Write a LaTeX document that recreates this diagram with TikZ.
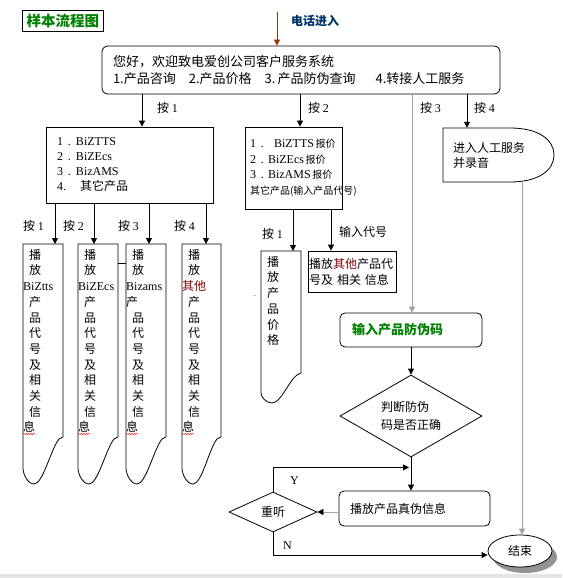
\documentclass[tikz,border=0pt]{standalone}
\usepackage{fontspec}
\setmainfont{Noto Sans CJK SC}
\newfontfamily\lat{Liberation Serif}
\usetikzlibrary{arrows.meta,shapes.geometric,shadows,decorations.pathmorphing}

\definecolor{titlegreen}{RGB}{0,128,0}
\definecolor{callblue}{RGB}{0,51,102}
\definecolor{callbrown}{RGB}{153,51,0}
\definecolor{otherred}{RGB}{128,0,0}
\definecolor{lanegray}{RGB}{160,160,160}

\newcommand{\ind}{\hspace*{6pt}}
\newcommand{\latb}{\lat\fontsize{12}{15}\selectfont}
% torn page outline: left, right, top, right bottom, tip depth
\newcommand{\tornpage}[5]{%
  \draw[line width=0.8pt] (#1,#3) -- (#2,#3) -- (#2,#4) -- (#2-4,#4+2)
    .. controls (#2-12,#4+0.25*#5) and (#1+20,#4+#5) .. (#1+11,#4+#5)
    .. controls (#1+5,#4+#5) and (#1,#4+0.8*#5) .. (#1,#4+0.66*#5) -- cycle;}

\begin{document}
\begin{tikzpicture}[
    x=1pt, y=-1pt,
    font=\fontsize{12}{15}\selectfont,
    box/.style={draw, line width=0.8pt, inner ysep=0pt},
    doctext/.style={anchor=north west, minimum width=40pt, text width=40pt, inner xsep=0pt, inner ysep=5pt, align=left, font=\fontsize{12}{15.7}\selectfont},
    lbl/.style={anchor=west, inner sep=0pt},
    arrow/.style={line width=0.8pt, -{Triangle[length=6pt, width=6pt]}},
    grayarrow/.style={line width=0.8pt, lanegray, -{Triangle[length=6pt, width=6pt]}},
    squiggle/.style={red, line width=0.4pt, decorate, decoration={snake, amplitude=0.7pt, segment length=2.5pt}}
]
\useasboundingbox (0,0) rectangle (562,578);

% title and call in
\node[draw, line width=0.8pt, minimum width=81, minimum height=21, inner sep=0pt, text=titlegreen, font=\fontsize{14.5}{15}\selectfont\bfseries] (title) at (63,20.5) {样本流程图};
\coordinate (callin) at (277,12);
\node[lbl, text=callblue, font=\fontsize{12}{15}\selectfont\bfseries] (calltxt) at (291,21) {电话进入};

% main menu
\node[box, rounded corners=6pt, minimum width=398, minimum height=48, text width=376, inner xsep=11pt, align=left, font=\fontsize{13}{17}\selectfont] (welcome) at (301,70) {您好，欢迎致电爱创公司客户服务系统\\1.产品咨询\hspace{13pt}2.产品价格\hspace{13pt}3.\,产品防伪查询\hspace{20pt}4.转接人工服务};
\draw[line width=0.8pt, callbrown, -{Triangle[length=6pt, width=6pt]}] (callin) -- (callin |- welcome.north);

\coordinate (k1) at (142,0);
\coordinate (k2) at (300,0);
\coordinate (k3) at (412,0);
\coordinate (k4) at (467,0);
\node[lbl] (kl1) at (157,108) {按 {\latb 1}};
\node[lbl] (kl2) at (308,108) {按 {\latb 2}};
\node[lbl] (kl3) at (420,108) {按 {\latb 3}};
\node[lbl] (kl4) at (474,108) {按 {\latb 4}};

% product list
\node[box, minimum width=167, minimum height=76, text width=145, inner xsep=11pt, align=left] (prodlist) at (129.5,165) {{\latb 1\hspace{5pt}.\hspace{5pt}BiZTTS}\\{\latb 2\hspace{5pt}.\hspace{5pt}BiZEcs}\\{\latb 3\hspace{5pt}.\hspace{5pt}BizAMS}\\{\latb 4.}\hspace{14pt}其它产品};
\draw[arrow] (welcome.south -| k1) -- (k1 |- prodlist.north);

% price list
\node[box, minimum width=97, minimum height=82, text width=87, inner xsep=5pt, align=left, font=\fontsize{10}{15.5}\selectfont] (pricelist) at (293.5,168) {{\latb 1\hspace{5pt}.\hspace{10pt}BiZTTS}\,报价\\{\latb 2\hspace{5pt}.\hspace{4pt}BiZEcs}\,报价\\{\latb 3\hspace{5pt}.\hspace{4pt}BizAMS}\,报价\\其它产品(输入产品代号)};
\draw[arrow] (welcome.south -| k2) -- (k2 |- pricelist.north);

% manual service
\node[text width=91, inner xsep=10pt, minimum width=111, minimum height=54, align=left, font=\fontsize{12}{15}\selectfont] (manual) at (498.5,155) {进入人工服务\\并录音};
\draw[line width=0.8pt] (443,128) -- (510,128) .. controls (539,128) and (554,140) .. (554,155)
  .. controls (554,170) and (539,182) .. (510,182) -- (443,182) -- cycle;
\draw[arrow] (welcome.south -| k4) -- (k4 |- manual.north);

% product info pages
\coordinate (j1) at (55,0);
\coordinate (j2) at (94,0);
\coordinate (j3) at (149,0);
\coordinate (j4) at (206,0);
\node[lbl] (jl1) at (23,226) {按 {\latb 1}};
\node[lbl] (jl2) at (63,226) {按 {\latb 2}};
\node[lbl] (jl3) at (118,226) {按 {\latb 3}};
\node[lbl] (jl4) at (174,226) {按 {\latb 4}};

\tornpage{23}{63}{244}{437}{47}
\tornpage{78}{118}{244}{437}{47}
\tornpage{126}{166}{244}{437}{47}
\tornpage{182}{221}{244}{437}{47}
\node[doctext] (d1) at (23,244) {\ind 播\\\ind 放\\{\latb BiZtts}\\\ind 产\\\ind 品\\\ind 代\\\ind 号\\\ind 及\\\ind 相\\\ind 关\\\ind 信\\息};
\node[doctext] (d2) at (78,244) {\ind 播\\\ind 放\\{\latb BiZEcs}\\\ind 产\\\ind 品\\\ind 代\\\ind 号\\\ind 及\\\ind 相\\\ind 关\\\ind 信\\息};
\node[doctext] (d3) at (126,244) {\ind 播\\\ind 放\\{\latb Bizams}\\产\\\ind 品\\\ind 代\\\ind 号\\\ind 及\\\ind 相\\\ind 关\\\ind 信\\息};
\node[doctext] (d4) at (182,244) {\ind 播\\\ind 放\\{\color{otherred}其他}\\\ind 产\\\ind 品\\\ind 代\\\ind 号\\\ind 及\\\ind 相\\\ind 关\\\ind 信\\息};
\draw[arrow] (prodlist.south -| j1) -- (j1 |- d1.north);
\draw[arrow] (prodlist.south -| j2) -- (j2 |- d2.north);
\draw[arrow] (prodlist.south -| j3) -- (j3 |- d3.north);
\draw[arrow] (prodlist.south -| j4) -- (j4 |- d4.north);
\draw[line width=0.8pt] ([yshift=-19pt]d2.north east) -- ([yshift=-19pt]d3.north west);
\draw[squiggle] (23,434) -- (35,434);
\draw[squiggle] (78,434) -- (90,434);
\draw[squiggle] (126,434) -- (138,434);
\draw[squiggle] (182,434) -- (194,434);

% price page and other code
\coordinate (p1) at (293,0);
\coordinate (p2) at (331,0);
\node[lbl] (pl1) at (262,234) {按 {\latb 1}};
\node[lbl] (pl2) at (339,232) {输入代号};
\tornpage{261}{301}{251}{373}{30}
\node[doctext] (d5) at (261,251) {\ind 播\\\ind 放\\\ind 产\\\ind 品\\\ind 价\\\ind 格};
\node[font=\fontsize{6}{6}\selectfont, inner sep=0pt] (dots) at (255,296) {..};
\node[box, minimum width=88, minimum height=41, text width=86, inner xsep=1pt, align=left, font=\fontsize{12}{16}\selectfont] (othercode) at (352,271.5) {播放{\color{otherred}其他}产品代\\号及 相关 信息};
\draw[arrow] (pricelist.south -| p1) -- (p1 |- d5.north);
\draw[arrow] (pricelist.south -| p2) -- (p2 |- othercode.north);

% anti-fake check
\node[box, rounded corners=5pt, minimum width=142, minimum height=34, text width=118, inner xsep=12pt, align=left, text=titlegreen, font=\fontsize{13}{15}\selectfont\bfseries] (verify) at (411,330) {输入产品防伪码};
\draw[grayarrow] (welcome.south -| k3) -- (k3 |- verify.north);
\node[draw, line width=0.8pt, diamond, aspect=1.73, minimum width=142, minimum height=82, inner sep=0pt, align=left, font=\fontsize{12}{18}\selectfont] (check) at (411,416) {判断防伪\\码是否正确};
\draw[arrow] (verify.south -| check.north) -- (check.north);
\node[box, rounded corners=5pt, minimum width=151, minimum height=35, text width=129, inner xsep=11pt, align=left] (truth) at (414.5,508.5) {播放产品真伪信息};
\draw[arrow] (check.south) -- (check.south |- truth.north);

% replay and end
\node[draw, line width=0.8pt, diamond, aspect=2.2, minimum width=88, minimum height=40, inner sep=0pt] (replay) at (273,512) {重听};
\node[draw, line width=0.8pt, ellipse, fill=white, minimum width=64, minimum height=32, inner sep=0pt, drop shadow={fill=gray!85, opacity=1, shadow xshift=5pt, shadow yshift=-6pt}] (finish) at (520,551) {结束};
\draw[line width=0.8pt, gray!70, -{Triangle[length=6pt, width=6pt, color=black]}] (truth.west |- replay.east) -- (replay.east);
\coordinate (yback) at ([yshift=-10pt]check.south);
\draw[arrow] (replay.north) |- ([xshift=-2pt]yback);
\node[lbl, font=\latb] (ylbl) at (290,481) {Y};
\draw[arrow] (replay.south) |- ([yshift=-4pt]finish.west);
\node[lbl, font=\latb] (nlbl) at (283,546) {N};
\coordinate (m4) at (522,0);
\draw[grayarrow] (manual.south -| m4) -- (m4 |- finish.north);

% bottom border
\fill[gray!20] (0,574) rectangle (562,578);
\end{tikzpicture}
\end{document}
